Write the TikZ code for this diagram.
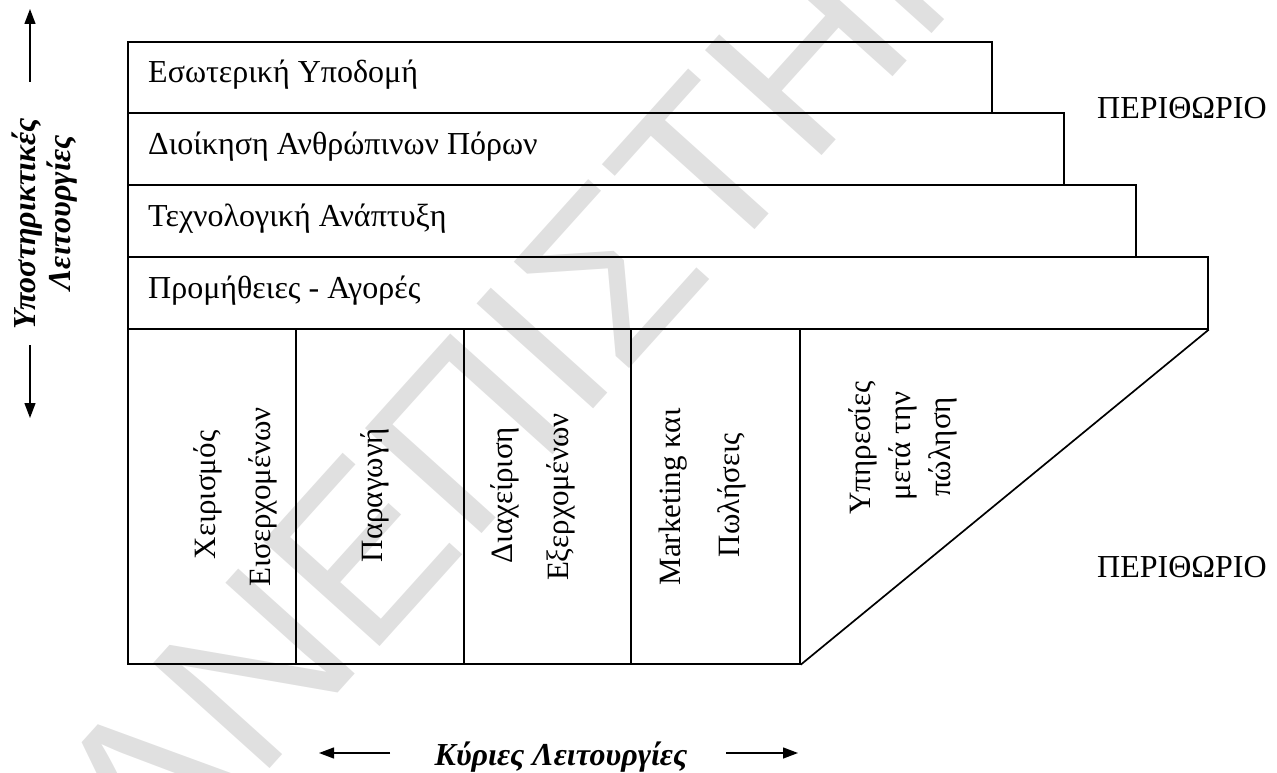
\documentclass[tikz,border=0pt]{standalone}
\usepackage{fontspec}
\setmainfont{Liberation Serif}
\newfontfamily\wmfont{Liberation Sans}
\usetikzlibrary{arrows.meta}

\begin{document}
\begin{tikzpicture}[x=1pt, y=-1pt,
  bar/.style={draw, line width=1.7pt, rectangle, anchor=north west, inner sep=0pt},
  boxtext/.style={anchor=base west, inner sep=0pt, font=\fontsize{32}{38}\selectfont},
  coltext/.style={rotate=90, anchor=base, inner sep=0pt, font=\fontsize{31}{37}\selectfont},
  sidetext/.style={inner sep=0pt, font=\fontsize{32}{38}\selectfont\bfseries\itshape},
  dirarrow/.style={line width=1.3pt, -{Triangle[length=15pt, width=11pt]}},
  watermark/.style={inner sep=0pt, text=black!12, font=\wmfont\fontsize{228}{228}\selectfont}]

\useasboundingbox (0,0) rectangle (1277,773);

% faint watermark behind the chart
\node[watermark, rotate=48] (wm) at (568,320) {ΠΑΝΕΠΙΣΤΗΜΙΟ};

% support activities: stacked bars
\node[bar, minimum width=864pt, minimum height=71pt] (infra) at (127,41) {};
\node[bar, minimum width=936pt, minimum height=72pt] (hrm)   at (127,112) {};
\node[bar, minimum width=1008pt, minimum height=72pt] (tech) at (127,184) {};
\node[bar, minimum width=1080pt, minimum height=72pt] (proc) at (127,256) {};

\node[boxtext] (infra-t) at (148,83)  {Εσωτερική Υποδομή};
\node[boxtext] (hrm-t)   at (148,154) {Διοίκηση Ανθρώπινων Πόρων};
\node[boxtext] (tech-t)  at (148,226) {Τεχνολογική Ανάπτυξη};
\node[boxtext] (proc-t)  at (148,298) {Προμήθειες - Αγορές};

% primary activities: columns
\node[bar, minimum width=168pt, minimum height=335pt] (col1) at (127,328) {};
\node[bar, minimum width=168pt, minimum height=335pt] (col2) at (295,328) {};
\node[bar, minimum width=167pt, minimum height=335pt] (col3) at (463,328) {};
\node[bar, minimum width=169pt, minimum height=335pt] (col4) at (630,328) {};
\draw[line width=1.7pt] (proc.south east) -- (col4.south east);

\node[coltext] (c1a) at (215,495) {Χειρισμός};
\node[coltext] (c1b) at (270,497) {Εισερχομένων};
\node[coltext] (c2)  at (382,495) {Παραγωγή};
\node[coltext] (c3a) at (512,495) {Διαχείριση};
\node[coltext] (c3b) at (568,497) {Εξερχομένων};
\node[coltext] (c4a) at (680,497) {Marketing και};
\node[coltext] (c4b) at (739,495) {Πωλήσεις};
\node[coltext] (c5a) at (870,448) {Υπηρεσίες};
\node[coltext] (c5b) at (910,446) {μετά την};
\node[coltext] (c5c) at (950,447) {πώληση};

% margin labels
\node[boxtext] (margin-top) at (1097,119) {ΠΕΡΙΘΩΡΙΟ};
\node[boxtext] (margin-bot) at (1097,577) {ΠΕΡΙΘΩΡΙΟ};

% vertical axis label with arrows
\node[sidetext, rotate=90, anchor=base] (sup1) at (35,224) {Υποστηρικτικές};
\node[sidetext, rotate=90, anchor=base] (sup2) at (70,213) {Λειτουργίες};
\coordinate (up-tail) at (30,82);
\coordinate (up-tip) at (30,9);
\coordinate (down-tail) at (30,345);
\coordinate (down-tip) at (30,418);
\draw[dirarrow] (up-tail) -- (up-tip);
\draw[dirarrow] (down-tail) -- (down-tip);

% horizontal axis label with arrows
\node[sidetext, anchor=base] (main) at (561,765) {Κύριες Λειτουργίες};
\coordinate (left-tail) at (390,753);
\coordinate (left-tip) at (319,753);
\coordinate (right-tail) at (726,753);
\coordinate (right-tip) at (798,753);
\draw[dirarrow] (left-tail) -- (left-tip);
\draw[dirarrow] (right-tail) -- (right-tip);
\end{tikzpicture}
\end{document}
